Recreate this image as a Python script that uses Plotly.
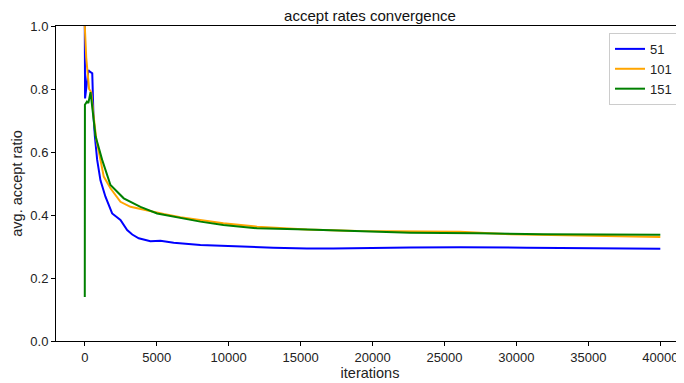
import plotly.graph_objects as go

# iterations / avg accept ratio
it_51 = [0, 20, 250, 350, 520, 600, 700, 861, 1090, 1437, 1903, 2200, 2479, 2944, 3300,
         3750, 4562, 5257, 6181, 8035, 9632, 13104, 15444, 17271, 22618, 26090, 30722,
         35000, 40000]
acc_51 = [1.0, 0.77, 0.86, 0.855, 0.85, 0.72, 0.65, 0.575, 0.51, 0.458, 0.405, 0.395,
          0.384, 0.352, 0.338, 0.326, 0.317, 0.318, 0.312, 0.305, 0.302, 0.296, 0.294,
          0.294, 0.297, 0.298, 0.296, 0.295, 0.293]

it_101 = [0, 100, 300, 450, 600, 800, 1090, 1319, 1785, 2479, 3174, 4333, 5486, 6646,
          8035, 9632, 11972, 15444, 18917, 22618, 26090, 29563, 34194, 40000]
acc_101 = [1.0, 0.9, 0.8, 0.79, 0.72, 0.64, 0.575, 0.522, 0.485, 0.442, 0.426, 0.414,
           0.403, 0.393, 0.384, 0.374, 0.363, 0.354, 0.349, 0.348, 0.347, 0.339, 0.334,
           0.330]

it_151 = [0, 10, 150, 250, 400, 600, 750, 1208, 1785, 2708, 3868, 5028, 6181, 8035,
          9632, 11972, 15444, 18917, 22618, 27250, 31854, 40000]
acc_151 = [0.14, 0.75, 0.76, 0.755, 0.79, 0.70, 0.65, 0.575, 0.495, 0.453, 0.426, 0.405,
           0.395, 0.379, 0.368, 0.358, 0.354, 0.349, 0.344, 0.342, 0.339, 0.337]

series = [("51", it_51, acc_51, "#0000ff"),
          ("101", it_101, acc_101, "#ffa500"),
          ("151", it_151, acc_151, "#008000")]

x_ticks = [0, 5000, 10000, 15000, 20000, 25000, 30000, 35000, 40000]
y_ticks = [0.0, 0.2, 0.4, 0.6, 0.8, 1.0]

FONT = "Liberation Sans"
W, H = 684, 383
# page has an 8px body margin: the figure is drawn offset by (8, 8)
L, T, R, B = 48, 18, 8, 50

fig = go.Figure()
for name, xs, ys, col in series:
    fig.add_trace(go.Scatter(x=xs, y=ys, mode="lines", name=name,
                             line=dict(color=col, width=2)))

fig.update_layout(
    width=W, height=H,
    margin=dict(l=L, r=R, t=T, b=B, autoexpand=False),
    paper_bgcolor="white", plot_bgcolor="white",
    font=dict(family=FONT, size=13, color="#222"),
    title=dict(text="accept rates convergence", x=0.5, xref="paper",
               y=(H - 8) / H, yanchor="middle", xanchor="center",
               font=dict(size=15, color="#111")),
    showlegend=True,
    legend=dict(x=0.8806, y=0.978, xanchor="left", yanchor="top",
                bordercolor="#cccccc", borderwidth=1, bgcolor="white",
                font=dict(size=13), tracegroupgap=0, itemwidth=30),
    xaxis=dict(range=[-2000, 41646], tickvals=x_ticks,
               ticktext=[str(v) for v in x_ticks], automargin=False,
               showgrid=False, zeroline=False, showline=True, linecolor="black",
               linewidth=1, mirror=True, ticks="outside", ticklen=4,
               tickcolor="black",
               title=dict(text="iterations", standoff=4, font=dict(size=14.5))),
    yaxis=dict(range=[0, 1], tickvals=y_ticks,
               ticktext=[f"{v:.1f}" for v in y_ticks], automargin=False,
               showgrid=False, zeroline=False, showline=True, linecolor="black",
               linewidth=1, ticks="outside", ticklen=4, tickcolor="black",
               title=dict(text="avg. accept ratio", standoff=4, font=dict(size=14.5))),
)

fig.write_html("out.html")
